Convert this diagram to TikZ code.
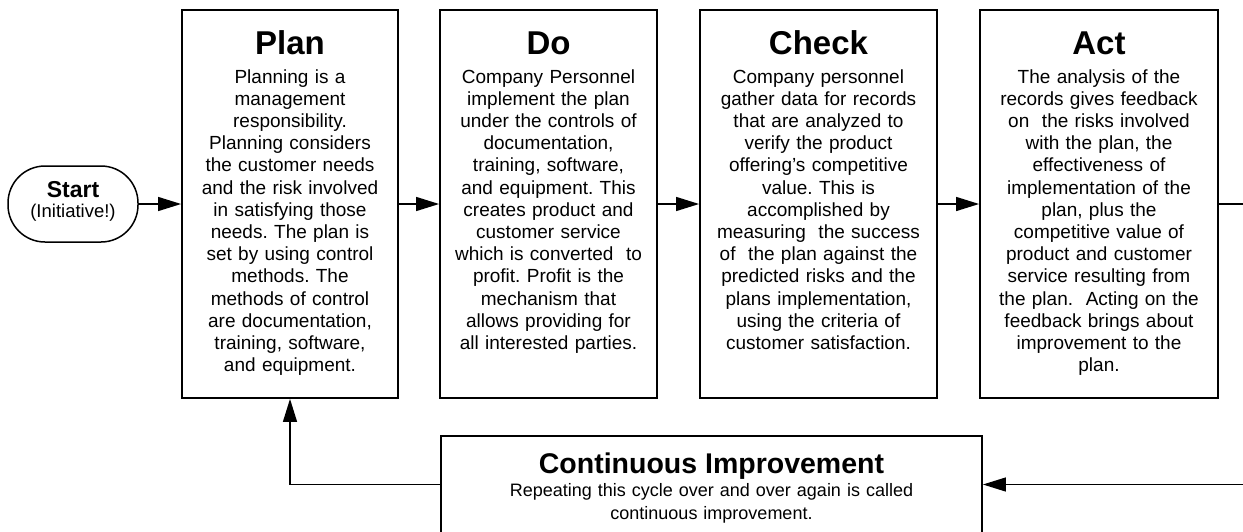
\documentclass[tikz,border=0pt]{standalone}
\usepackage{fontspec}
\setmainfont{Liberation Sans}
\usetikzlibrary{positioning, arrows.meta}
\frenchspacing

\tikzset{
  stage/.style={draw, line width=1.8pt, minimum height=388pt, inner sep=0pt},
  startbox/.style={draw, line width=1.5pt, rounded corners=37pt, minimum width=130pt,
    minimum height=76pt, inner sep=0pt, align=center, font=\fontsize{18.5}{22}\selectfont},
  head/.style={font=\fontsize{33}{38}\selectfont\bfseries, inner sep=0pt, anchor=base},
  body/.style={font=\fontsize{19}{22.2}\selectfont, align=center, inner sep=0pt, anchor=base},
  flow/.style={line width=1.3pt, -{Triangle[length=23pt,width=14pt]}}
}

\begin{document}
\begin{tikzpicture}[x=1pt, y=-1pt]
  \useasboundingbox (0,0) rectangle (1243,531);

  % Start and the four stages
  \node[startbox, text depth=10pt] (start) at (73,204) {{\fontsize{23}{26}\selectfont\bfseries Start}\\[-2pt](Initiative!)};
  \node[stage, minimum width=216pt] (plan) at (290,204) {};
  \node[stage, minimum width=217pt] (do) at (548.5,204) {};
  \node[stage, minimum width=237pt] (check) at (818.5,204) {};
  \node[stage, minimum width=238pt] (act) at (1099,204) {};

  % Headings and texts
  \node[below=45pt of plan.north, head] (planhead) {Plan};
  \node[below=74pt of plan.north, body, text width=206pt] (planbody) {Planning is a\\
    management\\ responsibility.\\ Planning considers\\ the customer needs\\
    and the risk involved\\ in satisfying those\\ needs. The plan is\\
    set by using control\\ methods. The\\ methods of control\\
    are documentation,\\ training, software,\\ and equipment.};
  \node[below=45pt of do.north, head] (dohead) {Do};
  \node[below=74pt of do.north, body, text width=207pt] (dobody) {Company Personnel\\
    implement the plan\\ under the controls of\\ documentation,\\
    training, software,\\ and equipment. This\\ creates product and\\
    customer service\\ which is converted~ to\\ profit. Profit is the\\
    mechanism that\\ allows providing for\\ all interested parties.};
  \node[below=45pt of check.north, head] (checkhead) {Check};
  \node[below=74pt of check.north, body, text width=227pt] (checkbody) {Company personnel\\
    gather data for records\\ that are analyzed to\\ verify the product\\
    offering's competitive\\ value. This is\\ accomplished by\\
    measuring~ the success\\ of~ the plan against the\\ predicted risks and the\\
    plans implementation,\\ using the criteria of\\ customer satisfaction.};
  \node[below=45pt of act.north, head] (acthead) {Act};
  \node[below=74pt of act.north, body, text width=228pt] (actbody) {The analysis of the\\
    records gives feedback\\ on~ the risks involved\\ with the plan, the\\
    effectiveness of\\ implementation of the\\ plan, plus the\\
    competitive value of\\ product and customer\\ service resulting from\\
    the plan.~ Acting on the\\ feedback brings about\\ improvement to the\\ plan.};

  % Continuous improvement
  \node[stage, minimum width=541pt, minimum height=97pt] (ci) at (711.5,484.5) {};
  \node[below=38pt of ci.north, head, font=\fontsize{28.5}{32}\selectfont\bfseries] (cihead) {Continuous Improvement};
  \node[below=61pt of ci.north, body, text width=520pt, font=\fontsize{18}{23}\selectfont] (cibody)
    {Repeating this cycle over and over again is called\\ continuous improvement.};

  % Connectors
  \foreach \a/\b in {start/plan, plan/do, do/check, check/act}
    \draw[flow] (\a) -- (\b);
  \draw[flow] (act.east) -- ++(40,0) |- (ci.east);
  \draw[flow] (ci.west) -| (plan.south);
\end{tikzpicture}
\end{document}
